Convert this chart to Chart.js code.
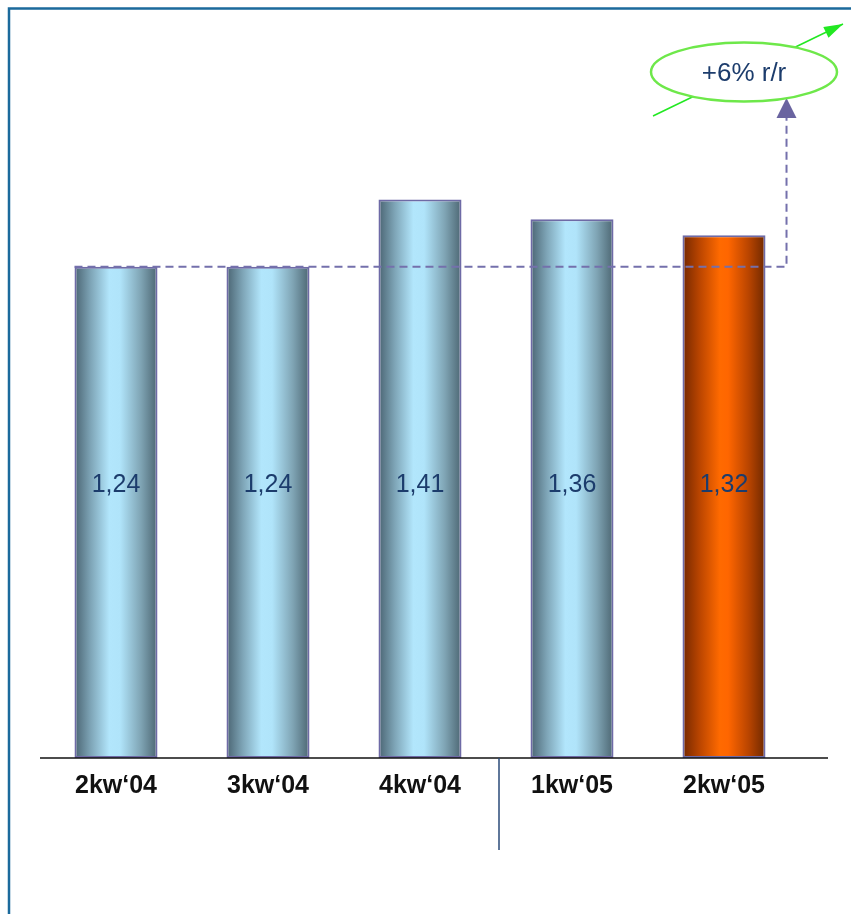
<!DOCTYPE html>
<html>
<head>
<meta charset="utf-8">
<script src="https://cdn.jsdelivr.net/npm/chart.js@4/dist/chart.umd.min.js"></script>
<style>
  html, body { margin: 0; padding: 0; background: #fff; }
  canvas { display: block; }
</style>
</head>
<body>
<canvas id="myChart" width="851" height="914"></canvas>
<script>
const quarters = ['2kw‘04', '3kw‘04', '4kw‘04', '1kw‘05', '2kw‘05'];
const values = [1.24, 1.24, 1.41, 1.36, 1.32];
const valueLabels = ['1,24', '1,24', '1,41', '1,36', '1,32'];
const highlightIndex = 4;
const growthLabel = '+6% r/r';

const BAR_PCT = 0.9;
const CAT_PCT = 0.607;

Chart.defaults.font.family = '"Liberation Sans", Arial, sans-serif';

function barGradient(context) {
  const chart = context.chart;
  const x = chart.scales.x;
  if (!chart.chartArea || !x || context.dataIndex === undefined) return '#9cc8dc';
  const cx = x.getPixelForValue(context.dataIndex);
  const half = (x.width / quarters.length) * BAR_PCT * CAT_PCT / 2;
  const g = chart.ctx.createLinearGradient(cx - half, 0, cx + half, 0);
  if (context.dataIndex === highlightIndex) {
    g.addColorStop(0, '#742800');
    g.addColorStop(0.2, '#b84400');
    g.addColorStop(0.45, '#ff6a00');
    g.addColorStop(0.55, '#ff6600');
    g.addColorStop(0.8, '#b84400');
    g.addColorStop(1, '#6e2800');
  } else {
    g.addColorStop(0, '#4a6472');
    g.addColorStop(0.2, '#7fa6b8');
    g.addColorStop(0.42, '#b2e6fc');
    g.addColorStop(0.55, '#b0e4fa');
    g.addColorStop(0.8, '#7fa4b4');
    g.addColorStop(1, '#4c6672');
  }
  return g;
}

// frame, baseline, divider, value labels and the growth callout
const decorations = {
  id: 'decorations',
  beforeDraw(chart) {
    const ctx = chart.ctx;
    ctx.save();
    ctx.fillStyle = '#ffffff';
    ctx.fillRect(0, 0, chart.width, chart.height);
    ctx.restore();
  },
  afterDatasetsDraw(chart) {
    const ctx = chart.ctx;
    const area = chart.chartArea;
    const xs = chart.scales.x;
    const ys = chart.scales.y;
    const bars = chart.getDatasetMeta(0).data;

    ctx.save();
    // baseline
    ctx.strokeStyle = '#111111';
    ctx.lineWidth = 1.5;
    ctx.beginPath();
    ctx.moveTo(area.left, area.bottom);
    ctx.lineTo(area.right + 28, area.bottom);
    ctx.stroke();

    // divider between 2004 and 2005
    const divX = (xs.getPixelForValue(2) + xs.getPixelForValue(3)) / 2 + 3;
    ctx.strokeStyle = '#2a4a78';
    ctx.lineWidth = 1.5;
    ctx.beginPath();
    ctx.moveTo(divX, area.bottom);
    ctx.lineTo(divX, area.bottom + 92);
    ctx.stroke();

    // value labels inside the bars
    ctx.fillStyle = '#1c3c6c';
    ctx.font = '25px "Liberation Sans", Arial, sans-serif';
    ctx.textAlign = 'center';
    ctx.textBaseline = 'middle';
    bars.forEach((bar, i) => {
      ctx.fillText(valueLabels[i], bar.x, ys.getPixelForValue(0.69));
    });

    // dashed reference line from the first bar to the arrow
    const refY = ys.getPixelForValue(values[0]);
    const first = bars[0];
    const last = bars[bars.length - 1];
    const arrowX = last.x + last.width / 2 + 21;
    const tipY = 98;
    ctx.strokeStyle = '#7470ac';
    ctx.lineWidth = 2;
    ctx.setLineDash([8, 5]);
    ctx.beginPath();
    ctx.moveTo(first.x - first.width / 2, refY);
    ctx.lineTo(arrowX, refY);
    ctx.lineTo(arrowX, tipY + 20);
    ctx.stroke();
    ctx.setLineDash([]);
    ctx.fillStyle = '#6a64a0';
    ctx.beginPath();
    ctx.moveTo(arrowX, tipY);
    ctx.lineTo(arrowX - 10, tipY + 20);
    ctx.lineTo(arrowX + 10, tipY + 20);
    ctx.closePath();
    ctx.fill();

    // green trend arrow
    const ax0 = 653, ay0 = 116, ax1 = 843, ay1 = 24;
    ctx.strokeStyle = '#22e822';
    ctx.fillStyle = '#22e822';
    ctx.lineWidth = 1.5;
    ctx.beginPath();
    ctx.moveTo(ax0, ay0);
    ctx.lineTo(ax1, ay1);
    ctx.stroke();
    const ang = Math.atan2(ay1 - ay0, ax1 - ax0);
    ctx.beginPath();
    ctx.moveTo(ax1, ay1);
    ctx.lineTo(ax1 - 19 * Math.cos(ang) + 6 * Math.sin(ang), ay1 - 19 * Math.sin(ang) - 6 * Math.cos(ang));
    ctx.lineTo(ax1 - 19 * Math.cos(ang) - 6 * Math.sin(ang), ay1 - 19 * Math.sin(ang) + 6 * Math.cos(ang));
    ctx.closePath();
    ctx.fill();

    // callout ellipse
    ctx.fillStyle = '#ffffff';
    ctx.strokeStyle = '#6ee84a';
    ctx.lineWidth = 2.5;
    ctx.beginPath();
    ctx.ellipse(744, 72, 93, 29.5, 0, 0, Math.PI * 2);
    ctx.fill();
    ctx.stroke();
    ctx.fillStyle = '#1c3c6c';
    ctx.font = '26px "Liberation Sans", Arial, sans-serif';
    ctx.textAlign = 'center';
    ctx.textBaseline = 'middle';
    ctx.fillText(growthLabel, 744, 74);

    // frame
    ctx.strokeStyle = '#1b6a9c';
    ctx.lineWidth = 2.5;
    ctx.beginPath();
    ctx.moveTo(9, chart.height);
    ctx.lineTo(9, 8.5);
    ctx.lineTo(chart.width, 8.5);
    ctx.stroke();
    ctx.restore();
  }
};

new Chart(document.getElementById('myChart').getContext('2d'), {
  type: 'bar',
  data: {
    labels: quarters,
    datasets: [{
      data: values,
      backgroundColor: barGradient,
      borderColor: '#6e6aa6',
      borderWidth: 2,
      borderSkipped: false,
      barPercentage: BAR_PCT,
      categoryPercentage: CAT_PCT
    }]
  },
  options: {
    responsive: false,
    animation: false,
    layout: { padding: { top: 45, left: 40, right: 51, bottom: 0 } },
    plugins: {
      legend: { display: false },
      tooltip: { enabled: false }
    },
    scales: {
      x: {
        grid: { display: false, drawTicks: false },
        border: { display: false },
        ticks: {
          padding: 13,
          color: '#111111',
          font: { size: 25, weight: 'bold' }
        },
        afterFit(scale) { scale.height = 156; }
      },
      y: {
        display: false,
        min: 0,
        max: 1.8
      }
    }
  },
  plugins: [decorations]
});
</script>
</body>
</html>
